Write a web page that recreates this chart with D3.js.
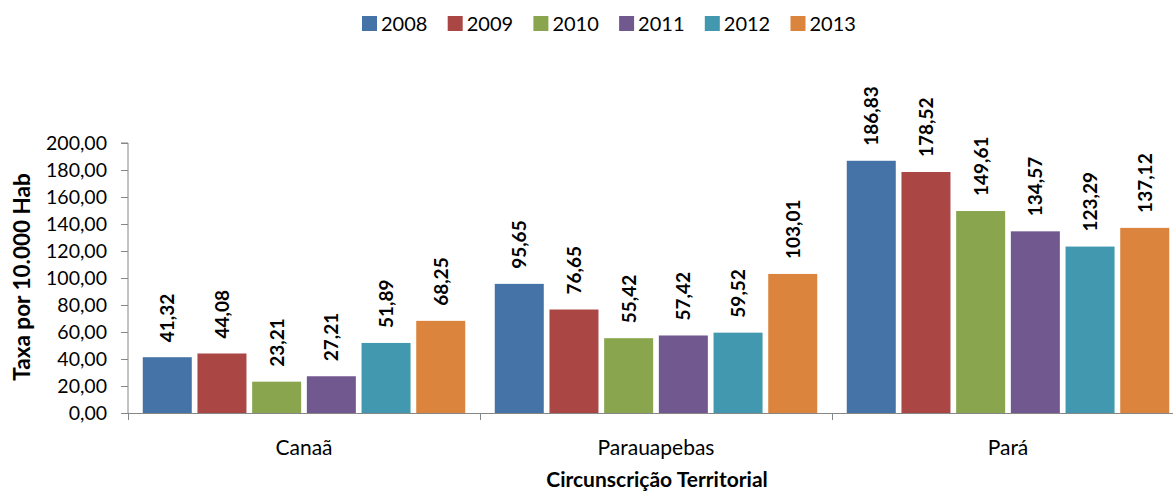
<!DOCTYPE html>
<html><head><meta charset="utf-8">
<script src="https://cdn.jsdelivr.net/npm/d3@7"></script>
<style>body{margin:0;background:#fff;overflow:hidden} svg{display:block}</style>
</head><body>
<svg id="c" width="1173" height="495"></svg>
<script>
const categories = ["Canaã", "Parauapebas", "Pará"];
const years = ["2008", "2009", "2010", "2011", "2012", "2013"];
const values2008 = [41.32, 95.65, 186.83];
const values2009 = [44.08, 76.65, 178.52];
const values2010 = [23.21, 55.42, 149.61];
const values2011 = [27.21, 57.42, 134.57];
const values2012 = [51.89, 59.52, 123.29];
const values2013 = [68.25, 103.01, 137.12];
const yTickValues = [0, 20, 40, 60, 80, 100, 120, 140, 160, 180, 200];
const colors = ["#4572A7", "#AA4643", "#89A54E", "#71588F", "#4198AF", "#DB843D"];

(function () {
const series = [values2008, values2009, values2010, values2011, values2012, values2013];
const FONT = "Lato, 'Open Sans', sans-serif";
const fmt = v => d3.format(".2f")(v).replace(".", ",");

const svg = d3.select("#c");
const pL = 128, pT = 143, pB = 413, pR = 1184;

const y = d3.scaleLinear().domain([0, 200]).range([pB, pT]);
const x0 = d3.scaleBand().domain(categories).range([pL, pR]).padding(0);
const x1 = d3.scaleBand().domain(years).range([0, x0.bandwidth()]).paddingInner(0.104).paddingOuter(0.27);

// y axis
const yAxis = svg.append("g").attr("transform", `translate(${pL},0)`)
  .call(d3.axisLeft(y).tickValues(yTickValues).tickSize(7).tickPadding(14).tickFormat(fmt));
yAxis.select(".domain").attr("stroke", "#868686").attr("d", `M-7,${pT}H0V${pB}`);
yAxis.selectAll(".tick line").attr("stroke", "#868686");
yAxis.selectAll(".tick text").attr("font-family", FONT).attr("font-size", 19.5).attr("fill", "#000");

// x axis
const boundaries = categories.map(c => x0(c)).concat([pR]);
const xg = svg.append("g");
xg.append("line").attr("x1", pL).attr("x2", pR).attr("y1", pB + 0.5).attr("y2", pB + 0.5).attr("stroke", "#868686");
xg.selectAll("line.t").data(boundaries).join("line").attr("class", "t")
  .attr("x1", d => d + 0.5).attr("x2", d => d + 0.5).attr("y1", pB).attr("y2", pB + 7).attr("stroke", "#868686");
xg.selectAll("text").data(categories).join("text")
  .attr("x", d => x0(d) + x0.bandwidth() / 2).attr("y", 455)
  .attr("text-anchor", "middle").attr("font-family", FONT).attr("font-size", 21).attr("fill", "#000")
  .text(d => d);

// bars
const groups = svg.append("g").selectAll("g").data(years).join("g")
  .attr("fill", (d, i) => colors[i]);
groups.each(function (yr, si) {
  const g = d3.select(this);
  const data = categories.map((c, ci) => ({ c, v: series[si][ci] }));
  g.selectAll("rect").data(data).join("rect")
    .attr("x", d => x0(d.c) + x1(yr))
    .attr("width", x1.bandwidth())
    .attr("y", d => y(d.v))
    .attr("height", d => y(0) - y(d.v));
  g.selectAll("text").data(data).join("text")
    .attr("transform", d => `translate(${x0(d.c) + x1(yr) + x1.bandwidth() / 2 + 7},${y(d.v) - 15}) rotate(-90)`)
    .attr("font-family", FONT).attr("font-size", 19).attr("font-weight", "bold").attr("fill", "#000")
    .text(d => fmt(d.v));
});

// axis titles
svg.append("text").attr("transform", `translate(30,277) rotate(-90)`)
  .attr("text-anchor", "middle").attr("font-family", FONT).attr("font-size", 22.5).attr("font-weight", "bold")
  .text("Taxa por 10.000 Hab");
svg.append("text").attr("x", 657).attr("y", 487)
  .attr("text-anchor", "middle").attr("font-family", FONT).attr("font-size", 21).attr("font-weight", "bold")
  .text("Circunscrição Territorial");

// legend
const lx = d3.scaleBand().domain(years).range([362, 362 + 6 * 85.7]);
const lg = svg.append("g").selectAll("g").data(years).join("g")
  .attr("transform", d => `translate(${lx(d)},0)`);
lg.append("rect").attr("x", 0).attr("y", 16).attr("width", 15).attr("height", 15).attr("fill", (d, i) => colors[i]);
lg.append("text").attr("x", 19).attr("y", 31).attr("font-family", FONT).attr("font-size", 20).attr("fill", "#000").text(d => d);
})();
</script>
</body></html>
